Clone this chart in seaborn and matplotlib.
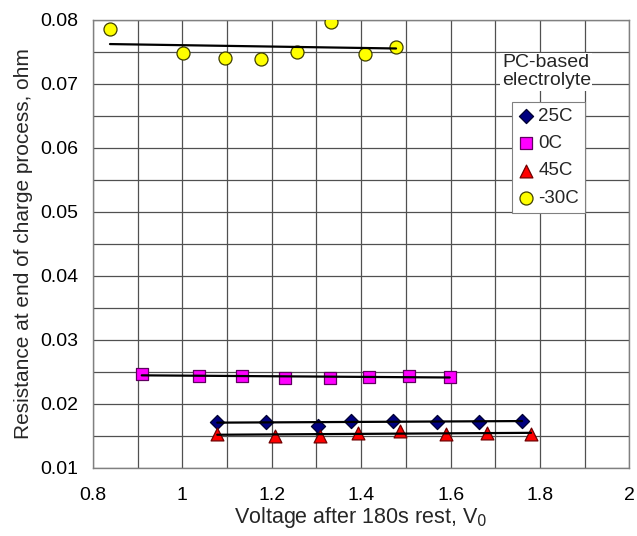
import matplotlib
matplotlib.use("Agg")
import matplotlib.pyplot as plt
from matplotlib.ticker import MultipleLocator, FormatStrFormatter, FuncFormatter
import seaborn as sns
import numpy as np

# ---- data ----
v_25 = [1.078, 1.187, 1.304, 1.378, 1.471, 1.569, 1.664, 1.760]
r_25 = [0.0172, 0.0172, 0.0166, 0.0174, 0.0174, 0.0172, 0.0172, 0.0174]

v_0 = [0.909, 1.038, 1.133, 1.229, 1.331, 1.418, 1.507, 1.598]
r_0 = [0.0247, 0.0243, 0.0244, 0.0241, 0.0240, 0.0242, 0.0244, 0.0242]

v_45 = [1.078, 1.207, 1.307, 1.393, 1.487, 1.589, 1.682, 1.780]
r_45 = [0.0153, 0.0150, 0.0150, 0.0155, 0.0158, 0.0153, 0.0155, 0.0153]

v_m30 = [0.838, 1.002, 1.096, 1.176, 1.256, 1.333, 1.409, 1.478]
r_m30 = [0.0786, 0.0748, 0.0741, 0.0739, 0.0750, 0.0797, 0.0747, 0.0758]

series_labels = ["25C", "0C", "45C", "-30C"]

sns.set_style("white")
plt.rcParams['font.family'] = ['Liberation Sans', 'DejaVu Sans']

fig = plt.figure(figsize=(6.37, 5.36), dpi=100)
ax = fig.add_axes([0.146, 0.127, 0.842, 0.836])

styles = [
    dict(x=v_25, y=r_25, marker="D", color="#000080", edge="#000030", s=52),
    dict(x=v_0, y=r_0, marker="s", color="#FF00FF", edge="#600060", s=80),
    dict(x=v_45, y=r_45, marker="^", color="#FF0000", edge="#700000", s=85),
    dict(x=v_m30, y=r_m30, marker="o", color="#FFFF00", edge="#404000", s=88),
]

for lab, st in zip(series_labels, styles):
    sns.scatterplot(x=st["x"], y=st["y"], marker=st["marker"], color=st["color"],
                    edgecolor=st["edge"], linewidth=0.9, s=st["s"], ax=ax,
                    label=lab, zorder=3)
    sns.regplot(x=np.array(st["x"]), y=np.array(st["y"]), scatter=False, ci=None,
                truncate=True, ax=ax,
                line_kws=dict(color="black", linewidth=1.6, zorder=4))

ax.set_xlim(0.8, 2.0)
ax.set_ylim(0.01, 0.08)
ax.xaxis.set_major_locator(MultipleLocator(0.2))
ax.xaxis.set_minor_locator(MultipleLocator(0.1))
ax.yaxis.set_major_locator(MultipleLocator(0.01))
ax.yaxis.set_minor_locator(MultipleLocator(0.005))
ax.xaxis.set_major_formatter(FuncFormatter(lambda v, p: ("%g" % round(v, 1))))
ax.yaxis.set_major_formatter(FormatStrFormatter("%.2f"))
ax.grid(True, which="both", color="#505050", linewidth=0.9)
ax.set_axisbelow(True)
for sp in ax.spines.values():
    sp.set_color("#808080")
    sp.set_linewidth(1.0)
ax.tick_params(axis="both", which="both", direction="inout", length=7,
               color="#808080", labelsize=14, labelcolor="black")
ax.tick_params(axis="x", which="major", pad=10)
ax.tick_params(axis="y", which="major", pad=7)

ax.set_xlabel("Voltage after 180s rest, V$_0$", fontsize=15.5, labelpad=1)
ax.set_ylabel("Resistance at end of charge process, ohm", fontsize=15, labelpad=5)

leg = ax.legend(loc="upper left", bbox_to_anchor=(0.781, 0.817), frameon=True,
                fancybox=False, edgecolor="#808080", framealpha=1, fontsize=13.5,
                handletextpad=0.2, borderpad=0.3, labelspacing=0.55,
                handlelength=0.9, borderaxespad=0)
leg.get_frame().set_linewidth(0.8)

ax.text(0.845, 0.884, "PC-based\nelectrolyte", transform=ax.transAxes,
        ha="center", va="center", fontsize=14, linespacing=1.1,
        bbox=dict(facecolor="white", edgecolor="none", pad=1), zorder=5)

fig.savefig("out.png", dpi=100)
